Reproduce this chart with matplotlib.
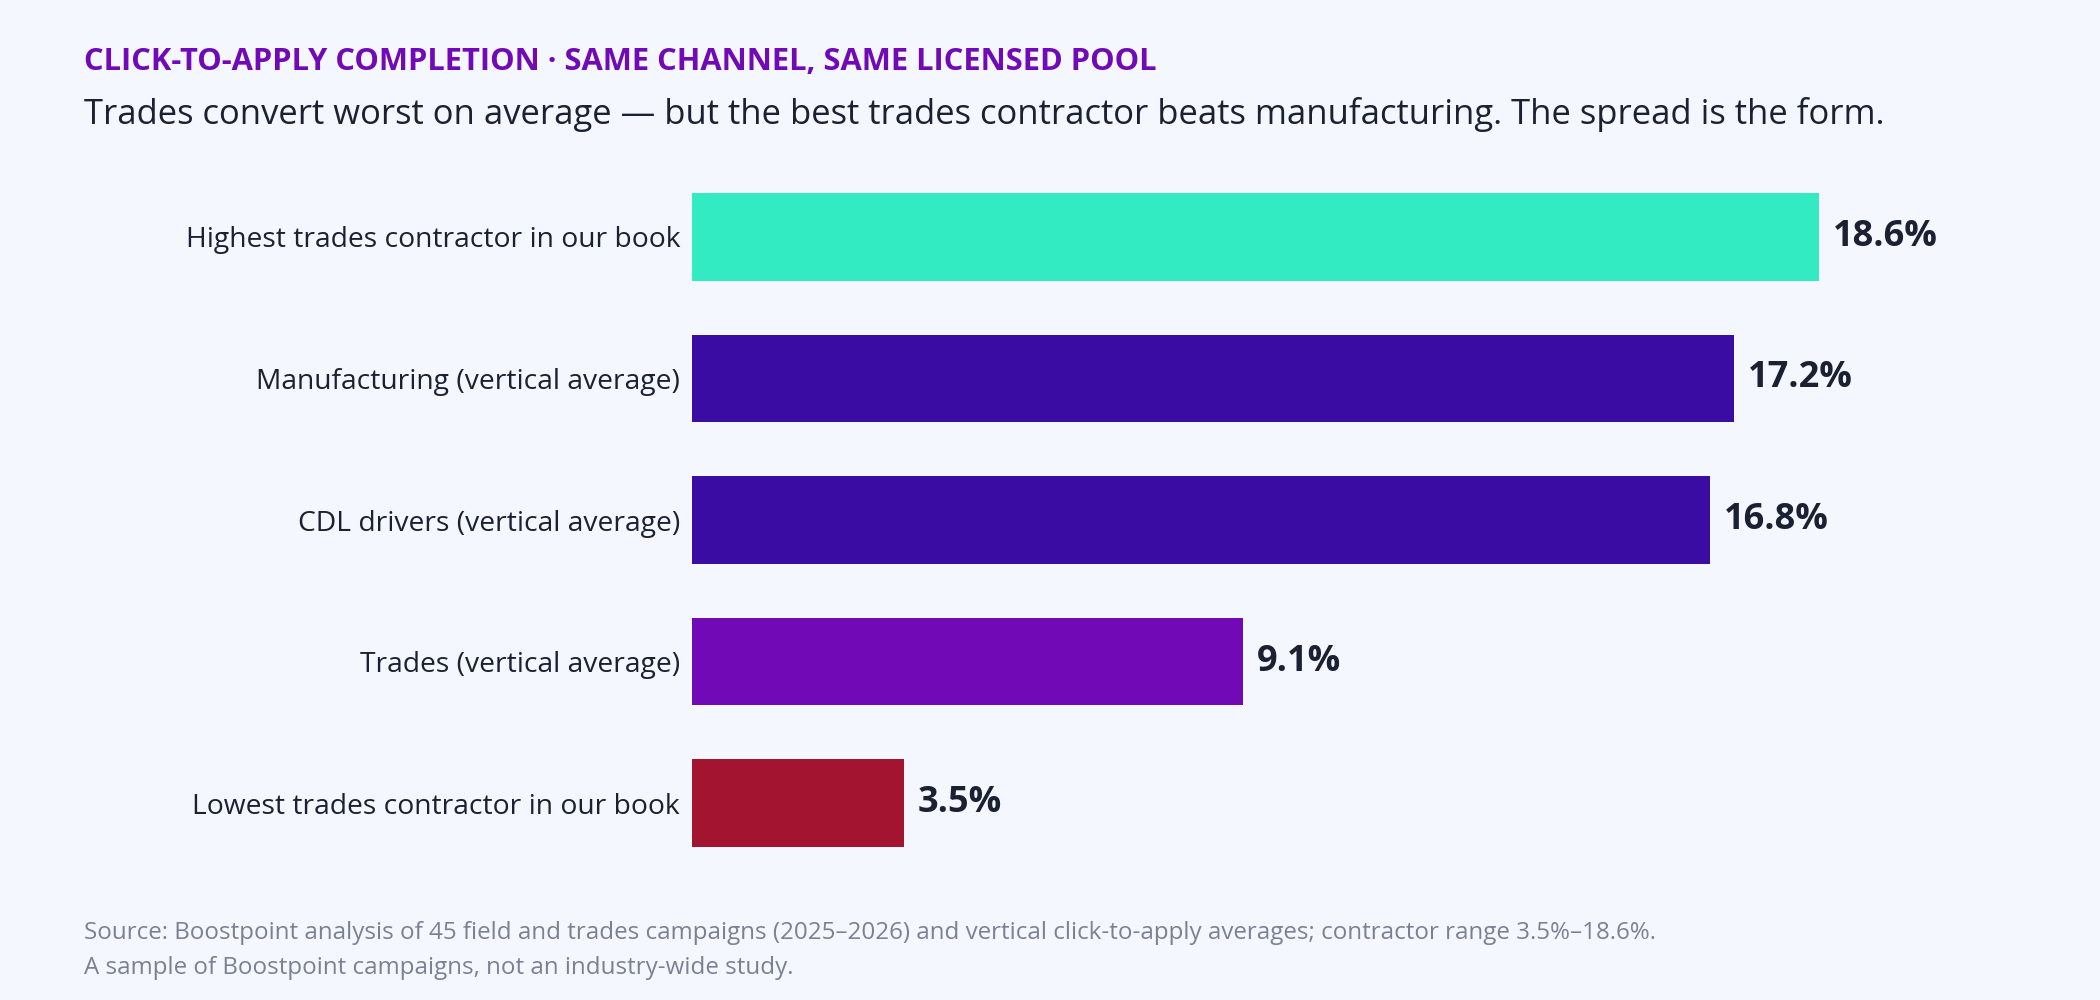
import matplotlib.pyplot as plt

# data
categories = [
    'Highest trades contractor in our book',
    'Manufacturing (vertical average)',
    'CDL drivers (vertical average)',
    'Trades (vertical average)',
    'Lowest trades contractor in our book',
]
values = [18.6, 17.2, 16.8, 9.1, 3.5]
bar_colors = ['#33ebc3', '#3a0ca3', '#3a0ca3', '#7209b7', '#a31430']

title = 'CLICK-TO-APPLY COMPLETION \u00b7 SAME CHANNEL, SAME LICENSED POOL'
subtitle = ('Trades convert worst on average \u2014 but the best trades contractor '
            'beats manufacturing. The spread is the form.')
source = ('Source: Boostpoint analysis of 45 field and trades campaigns (2025\u20132026) '
          'and vertical click-to-apply averages; contractor range 3.5%\u201318.6%.')
note = 'A sample of Boostpoint campaigns, not an industry-wide study.'

BG = '#f4f8fe'
INK = '#1b2033'
MUTED = '#7b8094'

plt.rcParams['font.family'] = ['Open Sans', 'DejaVu Sans']

fig = plt.figure(figsize=(21, 10), dpi=100, facecolor=BG)
ax = fig.add_axes([0.3295, 0.126, 0.5915, 0.708])
ax.set_facecolor(BG)

ypos = list(range(len(categories)))
ax.barh(ypos, values, height=0.62, color=bar_colors)
for y, v in zip(ypos, values):
    ax.annotate(f'{v}%', xy=(v, y), xytext=(10, 0), textcoords='offset points',
                va='center', ha='left', fontsize=26, fontweight='bold', color=INK)

ax.set_xlim(0, 20.5)
ax.set_ylim(len(categories) - 0.5, -0.5)
ax.set_yticks(ypos)
ax.set_yticklabels(categories, fontsize=20.3, color=INK)
ax.tick_params(axis='y', length=0, pad=8.5)
ax.set_xticks([])
for s in ax.spines.values():
    s.set_visible(False)

fig.text(0.04, 0.930, title, fontsize=22.2, fontweight='bold', color='#7209b7', va='baseline')
fig.text(0.04, 0.876, subtitle, fontsize=24.9, color=INK, va='baseline')
fig.text(0.04, 0.061, source, fontsize=17.4, color=MUTED, va='baseline')
fig.text(0.04, 0.026, note, fontsize=17.4, color=MUTED, va='baseline')

fig.savefig('out.png', dpi=100, facecolor=BG)
